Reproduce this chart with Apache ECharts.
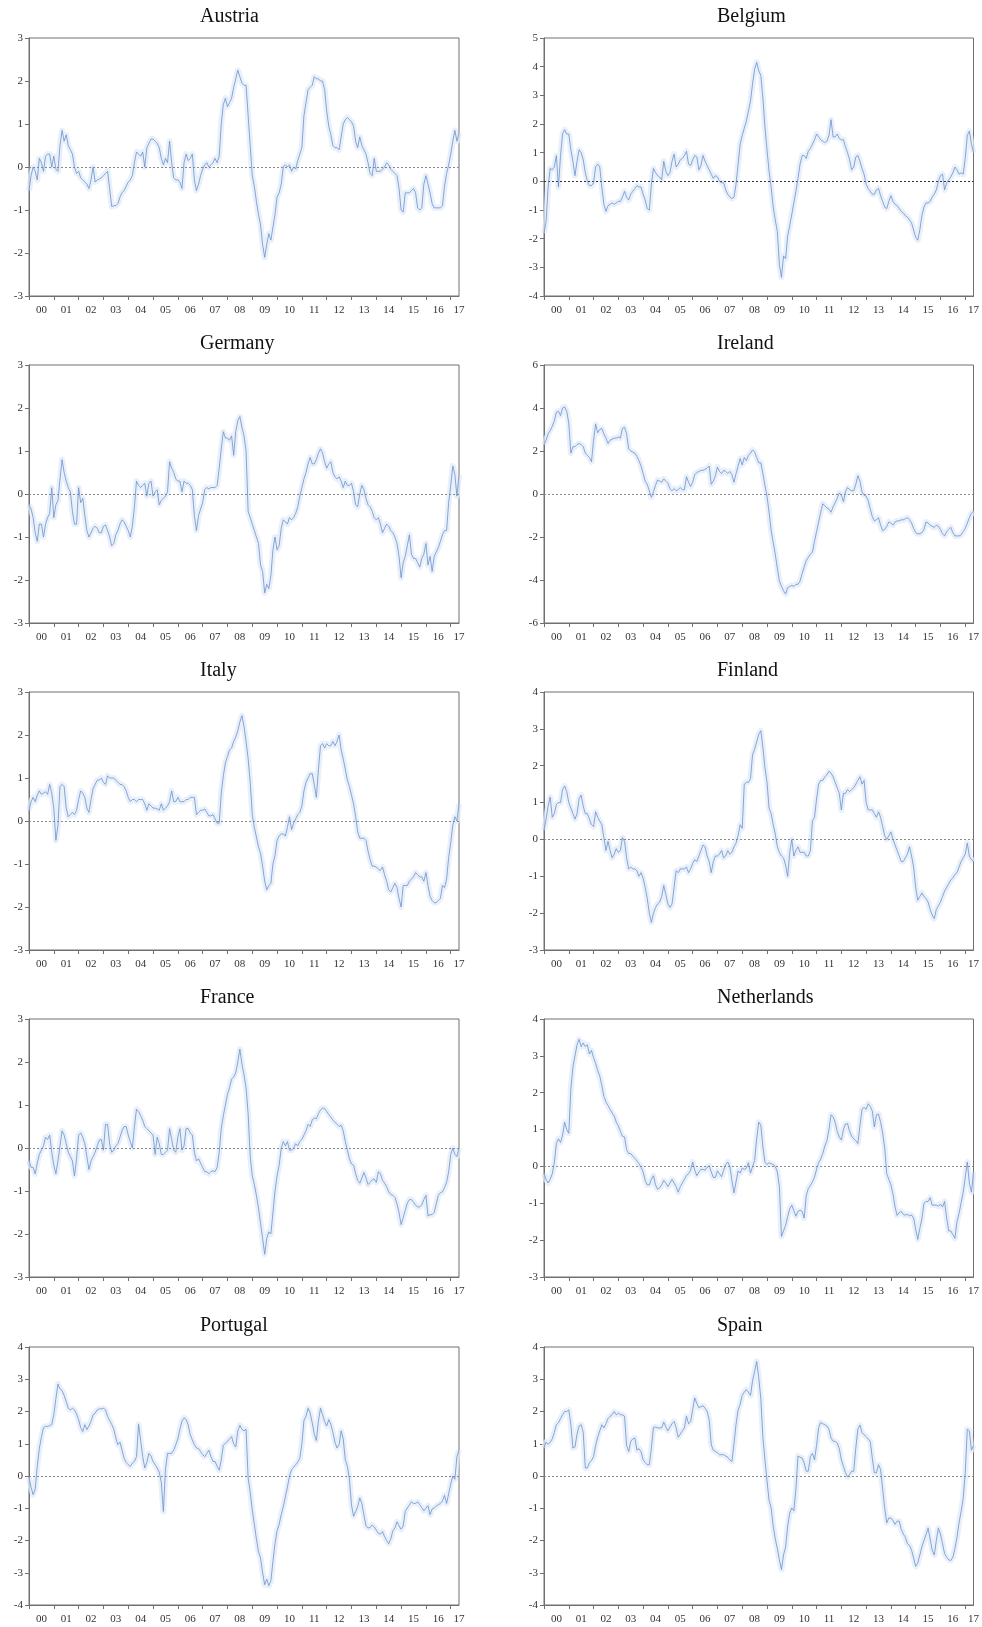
<!DOCTYPE html>
<html>
<head>
<meta charset="utf-8">
<title>Euro area countries</title>
<script src="https://cdn.jsdelivr.net/npm/echarts@6/dist/echarts.min.js"></script>
<style>
  html, body { margin: 0; padding: 0; background: #fff; }
  #chart { width: 982px; height: 1627px; }
</style>
</head>
<body>
<div id="chart"></div>
<script>
// monthly values, 2000-01 .. 2017-05 (one row per year)
var austria = [-0.55,-0.2,0,-0.1,-0.3,0.2,0.1,-0.1,0.25,0.3,0.3,0,
  0.25,-0.05,-0.1,0.5,0.85,0.6,0.75,0.5,0.4,0.3,0,-0.15,
  -0.1,-0.25,-0.3,-0.35,-0.4,-0.5,-0.3,0,-0.35,-0.3,-0.28,-0.25,
  -0.2,-0.15,-0.1,-0.5,-0.92,-0.9,-0.9,-0.85,-0.7,-0.6,-0.55,-0.45,
  -0.35,-0.3,-0.2,0.1,0.35,0.3,0.25,0.35,0,0.45,0.55,0.65,
  0.65,0.6,0.55,0.45,0.2,0.05,0.2,0.1,0.6,0.1,-0.25,-0.3,
  -0.3,-0.35,-0.5,0.1,0.3,0.15,0.2,0.3,-0.3,-0.55,-0.4,-0.2,
  -0.05,0.05,0.1,0,0.05,0.1,0.2,0.1,0.25,1,1.45,1.6,
  1.4,1.5,1.6,1.85,2.05,2.25,2.1,1.95,1.9,1.9,1.2,0.5,
  -0.2,-0.45,-0.8,-1.1,-1.35,-1.8,-2.1,-1.8,-1.55,-1.7,-1.4,-1.1,
  -0.7,-0.6,-0.4,0,0.05,0,0.05,-0.1,0,-0.05,0.15,0.3,
  0.45,1.2,1.5,1.8,1.85,1.9,2.1,2.05,2.05,2,2,1.8,
  1.3,0.95,0.75,0.5,0.45,0.45,0.4,0.7,1,1.1,1.15,1.1,
  1.05,0.95,0.6,0.45,0.7,0.5,0.4,0.3,0.1,-0.15,-0.2,0.2,
  -0.1,-0.1,-0.1,-0.05,0,0.1,0.05,-0.05,-0.1,-0.15,-0.2,-0.5,
  -1,-1.05,-0.6,-0.6,-0.6,-0.55,-0.5,-0.6,-0.95,-1,-0.95,-0.4,
  -0.2,-0.4,-0.6,-0.85,-0.95,-0.95,-0.95,-0.95,-0.9,-0.45,-0.15,0.05,
  0.3,0.6,0.85,0.6,0.8];

var belgium = [-1.8,-1.4,-0.2,0.45,0.4,0.5,0.9,-0.2,0.9,1.65,1.8,1.65,
  1.65,1.1,0.7,0.2,0.7,1.1,1,0.75,0.3,0,-0.15,-0.15,
  -0.05,0.5,0.6,0.5,-0.2,-0.8,-1.05,-0.85,-0.8,-0.75,-0.8,-0.75,
  -0.7,-0.7,-0.55,-0.35,-0.55,-0.65,-0.45,-0.35,-0.25,-0.15,-0.2,-0.2,
  -0.45,-0.65,-0.95,-1,-0.1,0.45,0.3,0.2,0.15,0.05,0.7,0.35,
  0.2,0.3,0.7,0.95,0.5,0.6,0.75,0.8,0.9,1.05,0.6,0.55,
  0.75,0.9,0.85,0.4,0.55,0.9,0.7,0.55,0.4,0.25,0.1,0.2,
  0.15,0,-0.05,-0.05,-0.3,-0.45,-0.55,-0.6,-0.55,-0.1,0.6,1.3,
  1.6,1.85,2.1,2.45,2.8,3.4,3.9,4.15,3.85,3.7,2.9,1.9,
  1.1,0.35,-0.2,-0.9,-1.35,-1.75,-2.9,-3.35,-2.6,-2.7,-1.9,-1.55,
  -1.15,-0.75,-0.35,0.1,0.6,0.9,0.9,0.8,1.05,1.15,1.3,1.45,
  1.65,1.55,1.45,1.4,1.35,1.4,1.6,2.15,1.55,1.55,1.65,1.5,
  1.45,1.45,1.2,1,0.75,0.4,0.5,0.85,0.9,0.7,0.45,0.25,
  -0.1,-0.25,-0.35,-0.45,-0.45,-0.3,-0.25,-0.5,-0.7,-0.9,-0.95,-0.7,
  -0.5,-0.7,-0.8,-0.85,-0.95,-1.05,-1.1,-1.2,-1.25,-1.35,-1.45,-1.7,
  -1.95,-2.05,-1.7,-1.2,-0.9,-0.75,-0.75,-0.7,-0.55,-0.45,-0.3,0,
  0.2,0.25,-0.3,-0.05,0.05,0.15,0.3,0.5,0.4,0.25,0.3,0.25,
  0.8,1.6,1.75,1.3,1];

var germany = [-0.25,-0.35,-0.55,-0.9,-1.1,-0.7,-0.7,-1,-0.7,-0.55,-0.45,0.15,
  -0.55,-0.25,-0.15,0.35,0.8,0.5,0.3,0.15,0.05,-0.4,-0.7,-0.7,
  0.15,-0.2,-0.1,-0.5,-0.85,-1,-0.9,-0.8,-0.75,-0.8,-0.9,-0.9,
  -0.75,-0.72,-0.85,-1,-1.2,-1.15,-0.95,-0.85,-0.7,-0.6,-0.65,-0.75,
  -0.85,-1,-0.75,-0.3,0.3,0.2,0.15,0.2,0.25,-0.05,0.25,0.3,
  -0.05,0.05,0.1,-0.25,-0.15,-0.1,-0.05,0.05,0.75,0.6,0.5,0.35,
  0.3,0.3,0.05,0.3,0.25,0.25,0.2,0.1,-0.5,-0.85,-0.5,-0.35,
  -0.2,0.1,0.15,0.12,0.15,0.15,0.15,0.2,0.6,1.05,1.45,1.3,
  1.3,1.25,1.35,0.9,1.45,1.7,1.8,1.55,1.35,1,-0.4,-0.55,
  -0.7,-0.85,-1,-1.15,-1.65,-1.8,-2.3,-2.1,-2.2,-1.9,-1.3,-1,
  -1.3,-1.2,-0.8,-0.6,-0.65,-0.7,-0.55,-0.6,-0.55,-0.45,-0.3,-0.05,
  0.15,0.35,0.5,0.7,0.85,0.7,0.7,0.8,0.95,1.05,0.95,0.75,
  0.6,0.7,0.75,0.5,0.4,0.35,0.4,0.3,0.15,0.3,0.2,0.2,
  0.25,0.05,-0.25,-0.3,0,0.2,0.1,-0.1,-0.25,-0.3,-0.4,-0.55,
  -0.6,-0.55,-0.7,-0.9,-0.8,-0.7,-0.75,-0.85,-0.9,-1,-1.15,-1.45,
  -1.95,-1.6,-1.45,-1.2,-0.95,-1.4,-1.5,-1.5,-1.6,-1.7,-1.5,-1.4,
  -1.15,-1.65,-1.45,-1.8,-1.45,-1.35,-1.25,-1.1,-0.95,-0.85,-0.85,-0.2,
  0.2,0.65,0.45,-0.05,0.45];

var ireland = [2.3,2.5,2.8,2.95,3.15,3.4,3.8,3.85,3.65,4,4.05,3.85,
  3.3,1.9,2.2,2.2,2.3,2.35,2.3,2.2,1.9,1.8,1.7,1.5,
  2.5,3.25,2.85,3,3.05,2.8,2.6,2.35,2.5,2.55,2.6,2.6,
  2.65,2.6,3.05,3.1,2.8,2.1,2,1.95,1.9,1.75,1.55,1.3,
  0.95,0.6,0.45,0.15,-0.15,0.1,0.4,0.65,0.6,0.55,0.7,0.6,
  0.5,0.25,0.15,0.25,0.15,0.2,0.3,0.2,0.2,0.8,0.55,0.35,
  0.55,0.9,1,1.05,1.1,1.1,1.15,1.2,1.3,0.45,0.6,0.85,
  1.25,1.05,0.95,1.1,1.05,0.95,1.05,0.9,0.55,0.95,1.3,1.65,
  1.35,1.7,1.55,1.8,1.9,2.05,1.95,1.7,1.45,1.45,0.95,0.4,
  -0.1,-0.85,-1.7,-2.25,-2.8,-3.45,-4.05,-4.3,-4.5,-4.65,-4.35,-4.3,
  -4.25,-4.3,-4.2,-4.2,-4.05,-3.7,-3.4,-3.1,-2.95,-2.8,-2.7,-2.2,
  -1.75,-1.3,-0.85,-0.45,-0.55,-0.65,-0.7,-0.85,-0.6,-0.4,-0.2,0.05,
  -0.05,-0.35,0.1,0.3,0.2,0.15,0.15,0.45,0.85,0.6,0.1,-0.05,
  -0.1,-0.3,-0.7,-1.05,-1.25,-1.2,-1.1,-1.45,-1.7,-1.65,-1.5,-1.3,
  -1.35,-1.45,-1.3,-1.25,-1.25,-1.2,-1.2,-1.15,-1.1,-1.2,-1.35,-1.6,
  -1.8,-1.85,-1.85,-1.8,-1.65,-1.3,-1.35,-1.45,-1.5,-1.55,-1.45,-1.5,
  -1.65,-1.85,-1.95,-1.75,-1.65,-1.55,-1.8,-1.95,-1.95,-1.95,-1.9,-1.75,
  -1.6,-1.35,-1.1,-0.9,-0.8];

var italy = [0.25,0.45,0.55,0.45,0.6,0.7,0.62,0.65,0.68,0.62,0.85,0.65,
  0.3,-0.45,-0.1,0.8,0.85,0.8,0.3,0.1,0.15,0.2,0.15,0.25,
  0.5,0.7,0.65,0.55,0.3,0.2,0.5,0.75,0.85,0.95,0.95,1,
  0.9,0.85,1.05,1,1,1,0.95,0.9,0.85,0.85,0.8,0.7,
  0.55,0.45,0.5,0.5,0.45,0.5,0.5,0.5,0.4,0.25,0.4,0.35,
  0.3,0.3,0.28,0.25,0.4,0.25,0.3,0.35,0.45,0.7,0.45,0.45,
  0.55,0.45,0.45,0.45,0.5,0.5,0.55,0.55,0.55,0.15,0.2,0.25,
  0.25,0.28,0.2,0.12,0.12,0.15,0.05,-0.05,-0.05,0.65,1.05,1.35,
  1.5,1.65,1.7,1.85,1.95,2.1,2.3,2.45,2.2,1.85,1.45,0.9,
  0.15,-0.15,-0.37,-0.6,-0.75,-1.05,-1.4,-1.6,-1.5,-1.45,-1,-0.8,
  -0.45,-0.35,-0.3,-0.3,-0.35,-0.15,0.1,-0.2,-0.05,0.05,0.15,0.2,
  0.35,0.7,0.9,1,1.1,1.1,0.85,0.55,1.2,1.75,1.8,1.7,
  1.8,1.75,1.75,1.85,1.75,1.85,2,1.65,1.45,1.2,0.95,0.8,
  0.6,0.4,0.1,-0.25,-0.4,-0.4,-0.4,-0.45,-0.7,-0.9,-1.05,-1.05,
  -1.07,-1.12,-1.15,-1.07,-1.25,-1.4,-1.6,-1.65,-1.55,-1.45,-1.55,-1.8,
  -2,-1.5,-1.5,-1.5,-1.4,-1.35,-1.3,-1.2,-1.25,-1.3,-1.3,-1.4,
  -1.2,-1.5,-1.75,-1.85,-1.9,-1.9,-1.85,-1.8,-1.5,-1.55,-1.35,-0.85,
  -0.5,-0.1,0.1,0,0.4];

var finland = [0.25,0.55,0.9,1.15,0.6,0.7,0.95,1,1,1.35,1.45,1.3,
  1,0.85,0.7,0.55,0.7,1.1,1.2,0.9,0.7,0.7,0.55,0.4,
  0.35,0.75,0.6,0.5,0.4,0.05,-0.3,-0.05,-0.3,-0.5,-0.4,-0.25,
  -0.35,-0.3,0.05,-0.05,-0.5,-0.8,-0.75,-0.8,-0.8,-0.85,-1,-0.9,
  -1.05,-1.3,-1.6,-2,-2.25,-2,-1.85,-1.75,-1.7,-1.55,-1.25,-1.5,
  -1.75,-1.85,-1.75,-1.3,-0.85,-0.9,-0.8,-0.8,-0.8,-0.75,-0.9,-0.8,
  -0.65,-0.55,-0.6,-0.45,-0.3,-0.15,-0.2,-0.45,-0.6,-0.9,-0.6,-0.45,
  -0.45,-0.4,-0.3,-0.5,-0.45,-0.3,-0.4,-0.35,-0.2,-0.1,0.1,0.4,
  0.3,1.5,1.55,1.55,1.65,2.3,2.45,2.65,2.85,2.95,2.5,1.95,
  1.55,0.85,0.7,0.4,0.15,-0.2,-0.35,-0.45,-0.5,-0.7,-1,-0.35,
  0,-0.45,-0.3,-0.2,-0.35,-0.35,-0.35,-0.45,-0.45,-0.3,0.5,0.6,
  1.1,1.5,1.6,1.6,1.7,1.75,1.85,1.8,1.7,1.55,1.4,1.25,
  0.8,1.25,1.25,1.35,1.3,1.35,1.4,1.5,1.6,1.7,1.5,1.6,
  1,0.8,0.8,0.8,0.7,0.6,0.75,0.6,0.35,0.1,0,0.1,
  0.2,0,-0.15,-0.3,-0.45,-0.6,-0.6,-0.5,-0.4,-0.2,-0.45,-0.75,
  -1.3,-1.65,-1.55,-1.45,-1.55,-1.6,-1.7,-1.9,-2.05,-2.15,-1.9,-1.8,
  -1.7,-1.55,-1.4,-1.3,-1.2,-1.1,-1.05,-0.95,-0.9,-0.75,-0.6,-0.5,
  -0.4,-0.1,-0.45,-0.55,-0.6];

var france = [-0.3,-0.45,-0.45,-0.6,-0.35,-0.15,-0.05,0.05,0.25,0.2,0.3,-0.1,
  -0.4,-0.6,-0.3,0.05,0.4,0.3,0.1,-0.1,-0.2,-0.3,-0.65,-0.25,
  0.3,0.35,0.25,0.1,-0.2,-0.5,-0.3,-0.2,-0.1,0.05,0.18,0.2,
  -0.05,0.55,0.55,0.1,-0.1,-0.05,0.05,0.1,0.25,0.4,0.5,0.5,
  0.3,0.15,0,0.5,0.9,0.85,0.75,0.65,0.5,0.45,0.4,0.35,
  0.3,-0.15,0.25,0.1,-0.15,-0.15,-0.1,-0.05,0.45,0.2,-0.05,-0.1,
  0.25,0.45,-0.05,0.05,0.45,0.45,0.35,0.3,-0.1,-0.3,-0.25,-0.35,
  -0.45,-0.55,-0.55,-0.6,-0.55,-0.53,-0.55,-0.45,-0.1,0.45,0.75,1,
  1.25,1.4,1.6,1.65,1.75,2,2.3,1.95,1.7,1.4,0.8,-0.2,
  -0.65,-0.85,-1.1,-1.4,-1.75,-2.1,-2.47,-2.1,-1.95,-2,-1.5,-1,
  -0.65,-0.4,0,0.15,0.05,0.15,-0.05,-0.05,0,0.1,0.05,0.15,
  0.2,0.3,0.4,0.55,0.5,0.65,0.7,0.68,0.8,0.88,0.93,0.92,
  0.85,0.78,0.72,0.65,0.6,0.55,0.5,0.53,0.4,0.15,-0.05,-0.25,
  -0.37,-0.4,-0.6,-0.75,-0.82,-0.7,-0.57,-0.7,-0.85,-0.8,-0.74,-0.72,
  -0.8,-0.55,-0.6,-0.75,-0.82,-0.9,-1.02,-1.08,-1.1,-1.15,-1.3,-1.5,
  -1.78,-1.62,-1.45,-1.28,-1.2,-1.2,-1.26,-1.33,-1.37,-1.37,-1.32,-1.2,
  -1.1,-1.58,-1.55,-1.55,-1.5,-1.3,-1.1,-1.04,-1.02,-0.92,-0.8,-0.55,
  -0.15,0,-0.15,-0.2,0];

var netherlands = [-0.2,-0.35,-0.45,-0.35,-0.2,0.1,0.62,0.75,0.65,0.85,1.2,1,
  0.9,2.1,2.7,3,3.3,3.45,3.25,3.35,3.25,3.3,3.05,3.15,
  2.95,2.8,2.6,2.45,2.2,1.9,1.75,1.65,1.55,1.45,1.37,1.2,
  1.1,0.95,0.82,0.8,0.45,0.35,0.35,0.28,0.22,0.15,0.07,-0.02,
  -0.15,-0.38,-0.5,-0.5,-0.35,-0.25,-0.5,-0.62,-0.58,-0.5,-0.38,-0.45,
  -0.55,-0.45,-0.35,-0.45,-0.55,-0.7,-0.55,-0.45,-0.35,-0.24,-0.2,-0.1,
  0.12,-0.1,-0.25,-0.15,-0.08,-0.08,-0.1,-0.02,0.02,-0.15,-0.3,-0.3,
  -0.12,-0.2,-0.28,-0.1,0.05,0.12,0,-0.38,-0.72,-0.42,-0.12,-0.18,
  -0.05,-0.08,-0.05,0.1,-0.18,0,0.16,0.75,1.2,1.12,0.53,0.12,
  0.05,0.1,0.07,0.05,0,-0.15,-0.56,-1.9,-1.75,-1.6,-1.36,-1.15,
  -1.05,-1.2,-1.35,-1.22,-1.19,-1.22,-1.4,-0.8,-0.6,-0.52,-0.42,-0.29,
  -0.08,0.1,0.2,0.35,0.55,0.7,1,1.4,1.35,1.2,0.95,0.8,
  0.72,1,1.15,1.16,0.95,0.82,0.75,0.7,0.62,1.1,1.55,1.6,
  1.55,1.7,1.63,1.5,1.07,1.4,1.42,1.2,0.9,0.5,-0.2,-0.35,
  -0.5,-0.75,-1.1,-1.33,-1.25,-1.22,-1.3,-1.32,-1.3,-1.34,-1.32,-1.4,
  -1.7,-1.98,-1.68,-1.42,-1,-0.95,-0.95,-0.85,-1.05,-1.05,-1.05,-1.08,
  -1.02,-1.1,-0.95,-1.4,-1.75,-1.75,-1.85,-1.95,-1.5,-1.28,-0.98,-0.7,
  -0.3,0.12,-0.45,-0.7,-0.15];

var portugal = [-0.05,-0.35,-0.58,-0.4,0.3,0.85,1.2,1.5,1.54,1.54,1.56,1.6,
  1.9,2.4,2.85,2.7,2.65,2.5,2.3,2.1,2.05,2.1,2.05,1.92,
  1.75,1.5,1.38,1.59,1.44,1.55,1.7,1.9,1.95,2.05,2.08,2.08,
  2.1,2.05,1.85,1.72,1.6,1.45,1.18,0.97,1.05,0.8,0.55,0.42,
  0.35,0.3,0.4,0.45,0.6,1.6,1.1,0.6,0.25,0.42,0.7,0.62,
  0.45,0.35,0.25,0.12,-0.2,-1.1,0.2,0.7,0.7,0.7,0.8,0.97,
  1.15,1.45,1.7,1.8,1.75,1.59,1.28,1.12,0.97,0.87,0.85,0.76,
  0.66,0.6,0.7,0.8,0.6,0.45,0.45,0.3,0.18,0.5,0.95,1.02,
  1.07,1.15,1.22,1,0.9,1.4,1.57,1.45,1.4,1.45,-0.06,-0.5,
  -1.05,-1.5,-1.95,-2.35,-2.54,-3,-3.37,-3.2,-3.4,-3.25,-2.64,-2.1,
  -1.7,-1.5,-1.2,-0.95,-0.65,-0.35,0,0.2,0.27,0.35,0.43,0.55,
  1,1.72,1.85,2.1,1.95,1.65,1.3,1.1,1.7,2.1,1.9,1.69,
  1.55,1.75,1.6,1.35,1.05,0.87,0.97,1.4,1.15,0.5,0.3,-0.1,
  -0.9,-1.25,-1.1,-0.95,-0.68,-0.85,-1.2,-1.55,-1.61,-1.6,-1.52,-1.58,
  -1.68,-1.78,-1.8,-1.72,-1.88,-2,-2.1,-1.95,-1.7,-1.61,-1.42,-1.55,
  -1.65,-1.55,-1.1,-0.99,-0.9,-0.8,-0.85,-0.85,-0.8,-0.89,-0.98,-1.08,
  -1,-0.92,-1.2,-1.02,-0.99,-0.93,-0.89,-0.85,-0.78,-0.6,-0.85,-0.55,
  -0.25,0,-0.1,0.6,0.8];

var spain = [0.87,1.05,0.98,1.05,1.15,1.35,1.59,1.65,1.78,1.9,2,2,
  2.05,1.6,0.87,0.9,1.3,1.55,1.59,1.35,0.25,0.25,0.42,0.48,
  0.6,0.95,1.2,1.4,1.59,1.49,1.62,1.78,1.85,1.9,2,1.9,
  1.95,1.9,1.9,1.85,0.95,0.76,1.07,1.15,1.18,0.8,0.85,0.75,
  0.5,0.42,0.35,0.35,0.87,1.5,1.52,1.49,1.49,1.49,1.67,1.52,
  1.4,1.52,1.62,1.69,1.5,1.2,1.3,1.4,1.49,1.85,1.62,1.69,
  2.05,2.42,2.25,2.12,2.15,2.18,2.1,2,1.75,0.97,0.8,0.76,
  0.72,0.66,0.66,0.66,0.62,0.58,0.5,0.45,1,1.6,2.05,2.22,
  2.5,2.6,2.68,2.6,2.5,2.95,3.24,3.55,3.05,2.4,1.2,0.5,
  -0.15,-0.75,-0.99,-1.55,-1.95,-2.25,-2.6,-2.9,-2.45,-2.2,-1.55,-1.15,
  -0.99,-1.08,-0.4,0.62,0.58,0.56,0.4,0.15,0.15,0.6,0.7,0.5,
  0.95,1.5,1.66,1.62,1.59,1.55,1.45,1.18,1.08,1.07,1.02,0.85,
  0.5,0.3,0.1,-0.03,0.05,0.15,0.15,0.87,1.45,1.58,1.35,1.28,
  1.22,1.15,1.07,0.55,0.1,0.1,0.35,0.2,-0.4,-1,-1.45,-1.3,
  -1.3,-1.38,-1.5,-1.4,-1.4,-1.65,-1.8,-1.9,-2.1,-2.15,-2.3,-2.54,
  -2.8,-2.7,-2.45,-2.2,-2,-1.82,-1.62,-1.95,-2.3,-2.45,-2,-1.62,
  -1.8,-2.1,-2.4,-2.52,-2.6,-2.62,-2.52,-2.25,-1.9,-1.45,-1.1,-0.7,
  0.1,1.45,1.4,0.8,0.95];

// month categories 2000-01 .. 2017-05
var months = [];
for (var y = 2000; y <= 2017; y++) {
  for (var m = 1; m <= 12; m++) {
    if (y === 2017 && m > 5) break;
    months.push(y + '-' + (m < 10 ? '0' + m : m));
  }
}

var panels = [
  { name: 'Austria', data: austria, min: -3, max: 3, step: 1 },
  { name: 'Belgium', data: belgium, min: -4, max: 5, step: 1, zero: '#333' },
  { name: 'Germany', data: germany, min: -3, max: 3, step: 1 },
  { name: 'Ireland', data: ireland, min: -6, max: 6, step: 2 },
  { name: 'Italy', data: italy, min: -3, max: 3, step: 1 },
  { name: 'Finland', data: finland, min: -3, max: 4, step: 1 },
  { name: 'France', data: france, min: -3, max: 3, step: 1 },
  { name: 'Netherlands', data: netherlands, min: -3, max: 4, step: 1 },
  { name: 'Portugal', data: portugal, min: -4, max: 4, step: 1 },
  { name: 'Spain', data: spain, min: -4, max: 4, step: 1 }
];

var rowTops = [38, 365, 692, 1019, 1347];
var colLefts = [29, 544];
var titleLefts = [200, 717];
var serif = 'Liberation Serif';
var axisGrey = '#707070';

var titles = [], grids = [], xAxes = [], yAxes = [], series = [];

panels.forEach(function (p, k) {
  var row = Math.floor(k / 2), col = k % 2;
  var top = rowTops[row];

  titles.push({
    text: p.name,
    left: titleLefts[col],
    top: top - 31,
    padding: 0,
    textStyle: { fontFamily: serif, fontSize: 20, fontWeight: 'normal', color: '#111' }
  });

  grids.push({
    left: colLefts[col], top: top, width: 430, height: 258,
    show: true, borderColor: axisGrey, borderWidth: 1, backgroundColor: '#fff'
  });

  xAxes.push({
    type: 'category',
    gridIndex: k,
    data: months,
    boundaryGap: false,
    axisLine: { onZero: false, lineStyle: { color: axisGrey, width: 1 } },
    axisTick: {
      length: 4,
      interval: function (i) { return i % 12 === 0; },
      lineStyle: { color: axisGrey }
    },
    axisLabel: {
      interval: function (i) { return i % 12 === 6 || i === months.length - 1; },
      formatter: function (v) { return v.slice(2, 4); },
      fontFamily: serif, fontSize: 11, color: '#333', margin: 9
    },
    splitLine: { show: false }
  });

  yAxes.push({
    type: 'value',
    gridIndex: k,
    min: p.min, max: p.max, interval: p.step,
    axisLine: { show: true, lineStyle: { color: axisGrey, width: 1 } },
    axisTick: { show: true, length: 4, lineStyle: { color: axisGrey } },
    axisLabel: { fontFamily: serif, fontSize: 11, color: '#333', margin: 6 },
    splitLine: { show: false }
  });

  // faint band drawn under the line
  series.push({
    type: 'line',
    xAxisIndex: k, yAxisIndex: k,
    data: p.data,
    showSymbol: false,
    silent: true,
    lineStyle: { color: '#e2ebf8', width: 6, opacity: 0.75, join: 'round' },
    z: 1
  });

  series.push({
    type: 'line',
    xAxisIndex: k, yAxisIndex: k,
    data: p.data,
    showSymbol: false,
    silent: true,
    lineStyle: { color: '#6a92cc', width: 0.8 },
    z: 3,
    markLine: {
      silent: true,
      symbol: ['none', 'none'],
      label: { show: false },
      lineStyle: { color: p.zero || '#8a8a8a', type: [2, 2], width: 1 },
      data: [{ yAxis: 0 }],
      z: 2
    }
  });
});

var chart = echarts.init(document.getElementById('chart'), null, { renderer: 'canvas' });
chart.setOption({
  animation: false,
  backgroundColor: '#fff',
  title: titles,
  grid: grids,
  xAxis: xAxes,
  yAxis: yAxes,
  series: series
});
</script>
</body>
</html>
